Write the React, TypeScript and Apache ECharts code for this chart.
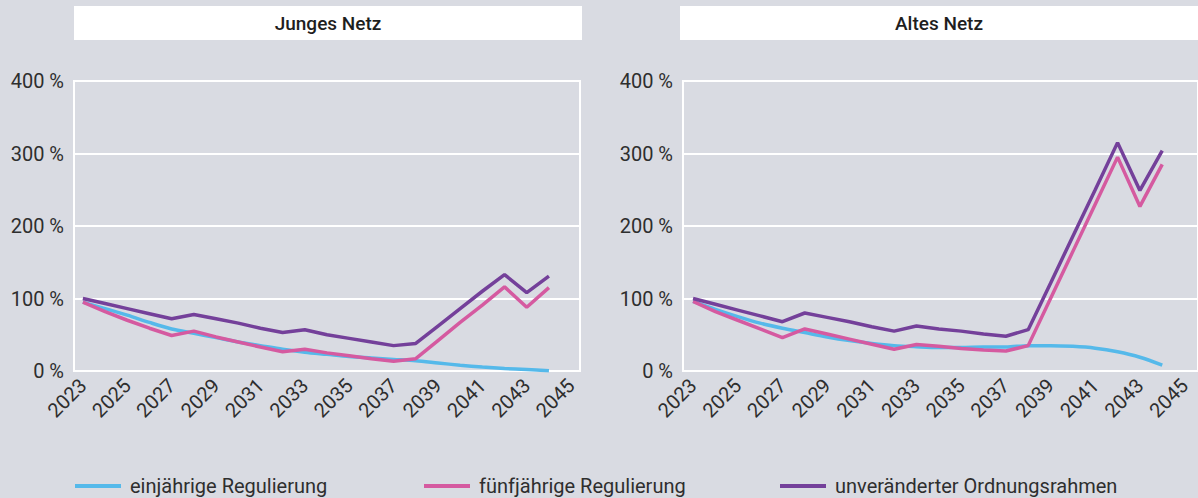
import React, { useEffect, useRef } from "react";
import * as echarts from "echarts";

const years = [2023, 2024, 2025, 2026, 2027, 2028, 2029, 2030, 2031, 2032, 2033, 2034, 2035, 2036, 2037, 2038, 2039, 2040, 2041, 2042, 2043, 2044];
const xTickLabels = [2023, 2025, 2027, 2029, 2031, 2033, 2035, 2037, 2039, 2041, 2043, 2045];
const yTicks = [0, 100, 200, 300, 400];
const panelTitles = ["Junges Netz", "Altes Netz"];
const seriesNames = ["einjährige Regulierung", "fünfjährige Regulierung", "unveränderter Ordnungsrahmen"];

const youngEin = [95, 86, 77, 67, 58, 52, 46, 40, 35, 30, 26, 23, 20, 18, 16, 14, 11, 8, 5.5, 3.5, 2, 0.5];
const youngFuenf = [95, 82, 70, 59, 49, 55, 47, 40, 33, 26.5, 30, 25, 21, 17, 13.5, 17, 42, 67, 91, 116, 88, 115];
const youngUnv = [100, 93, 86, 79, 72, 78, 72, 66, 59, 53, 57, 50, 45, 40, 35, 38, 62, 86, 110, 133, 108, 131];

const oldEin = [96, 85, 75, 66, 59, 53, 47, 42, 38, 35, 33.5, 32.5, 32.5, 33, 33, 35, 35, 34, 31.5, 26.5, 19, 8];
const oldFuenf = [96, 82, 70, 58, 46, 58, 51, 44, 37, 30, 36.5, 34, 31, 29, 27.5, 35, 100, 165, 230, 295, 227, 285];
const oldUnv = [100, 92, 84, 76, 68, 80, 74, 68, 61, 55, 62, 58, 55, 51, 48, 57, 121, 186, 250, 315, 249, 304];

const colors = ["#55b9ea", "#d55aa0", "#74409a"];
const BG = "#d9dbe2";
const TEXT = "#2e2e2e";
const FONT = "Roboto, 'Noto Sans', sans-serif";

export default function App() {
  const ref = useRef<HTMLDivElement>(null);
  useEffect(() => {
    document.body.style.margin = "0";
    if (!ref.current) return;
    const chart = echarts.init(ref.current, null, { renderer: "svg" });

    const pair = (a: number[]) => years.map((y, i) => [y, a[i]]);
    const panels = [
      [youngEin, youngFuenf, youngUnv],
      [oldEin, oldFuenf, oldUnv],
    ];

    const grids = [
      { left: 74, top: 81, width: 506, height: 290 },
      { left: 683, top: 81, width: 515, height: 290 },
    ];
    const xRanges = [
      [2022.6, 2045.4],
      [2022.55, 2045.6],
    ];

    const series: any[] = [];
    panels.forEach((arrs, p) => {
      arrs.forEach((arr, s) => {
        series.push({
          name: seriesNames[s],
          type: "line",
          xAxisIndex: p,
          yAxisIndex: p,
          data: pair(arr),
          showSymbol: false,
          symbol: "none",
          smooth: s === 0 ? 0.3 : false,
          lineStyle: { color: colors[s], width: 3.5 },
          itemStyle: { color: colors[s] },
          z: 2 + s,
        });
      });
    });

    const legendLefts = [75, 424, 780];

    chart.setOption({
      animation: false,
      backgroundColor: BG,
      textStyle: { fontFamily: FONT },
      grid: grids.map((g) => ({
        ...g,
        show: true,
        borderColor: "#ffffff",
        borderWidth: 2,
        backgroundColor: "transparent",
      })),
      xAxis: grids.map((_, p) => ({
        type: "value",
        gridIndex: p,
        min: xRanges[p][0],
        max: xRanges[p][1],
        axisLine: { show: true, lineStyle: { color: "#ffffff", width: 2 } },
        axisTick: { show: false },
        splitLine: { show: false },
        axisLabel: {
          customValues: xTickLabels,
          rotate: 45,
          margin: 11,
          color: TEXT,
          fontSize: 20,
          fontFamily: FONT,
          formatter: (v: number) => String(v),
        },
      })),
      yAxis: grids.map((_, p) => ({
        type: "value",
        gridIndex: p,
        min: yTicks[0],
        max: yTicks[yTicks.length - 1],
        interval: 100,
        axisLine: { show: true, lineStyle: { color: "#ffffff", width: 2 } },
        axisTick: { show: false },
        splitLine: { show: true, lineStyle: { color: "#ffffff", width: 2 } },
        axisLabel: {
          margin: 10,
          color: TEXT,
          fontSize: 20,
          fontFamily: FONT,
          formatter: (v: number) => `${v} %`,
        },
      })),
      legend: seriesNames.map((n, i) => ({
        data: [n],
        left: legendLefts[i],
        top: 476,
        padding: 0,
        icon: "rect",
        itemWidth: 46,
        itemHeight: 4,
        itemGap: 0,
        selectedMode: false,
        textStyle: { color: TEXT, fontSize: 20, lineHeight: 20, fontFamily: FONT, padding: [0, 0, 0, 4] },
      })),
      graphic: [
        { type: "rect", shape: { x: 74, y: 6, width: 508, height: 34 }, style: { fill: "#ffffff" }, z: 0 },
        { type: "rect", shape: { x: 680, y: 6, width: 518, height: 34 }, style: { fill: "#ffffff" }, z: 0 },
        {
          type: "text",
          x: 328,
          y: 23,
          style: { text: panelTitles[0], fill: "#1e1e1e", font: `500 19px ${FONT}`, align: "center", verticalAlign: "middle" },
          z: 1,
        },
        {
          type: "text",
          x: 939,
          y: 23,
          style: { text: panelTitles[1], fill: "#1e1e1e", font: `500 19px ${FONT}`, align: "center", verticalAlign: "middle" },
          z: 1,
        },
      ],
      series,
    });

    return () => chart.dispose();
  }, []);
  return <div ref={ref} style={{ width: 1198, height: 498 }} />;
}
